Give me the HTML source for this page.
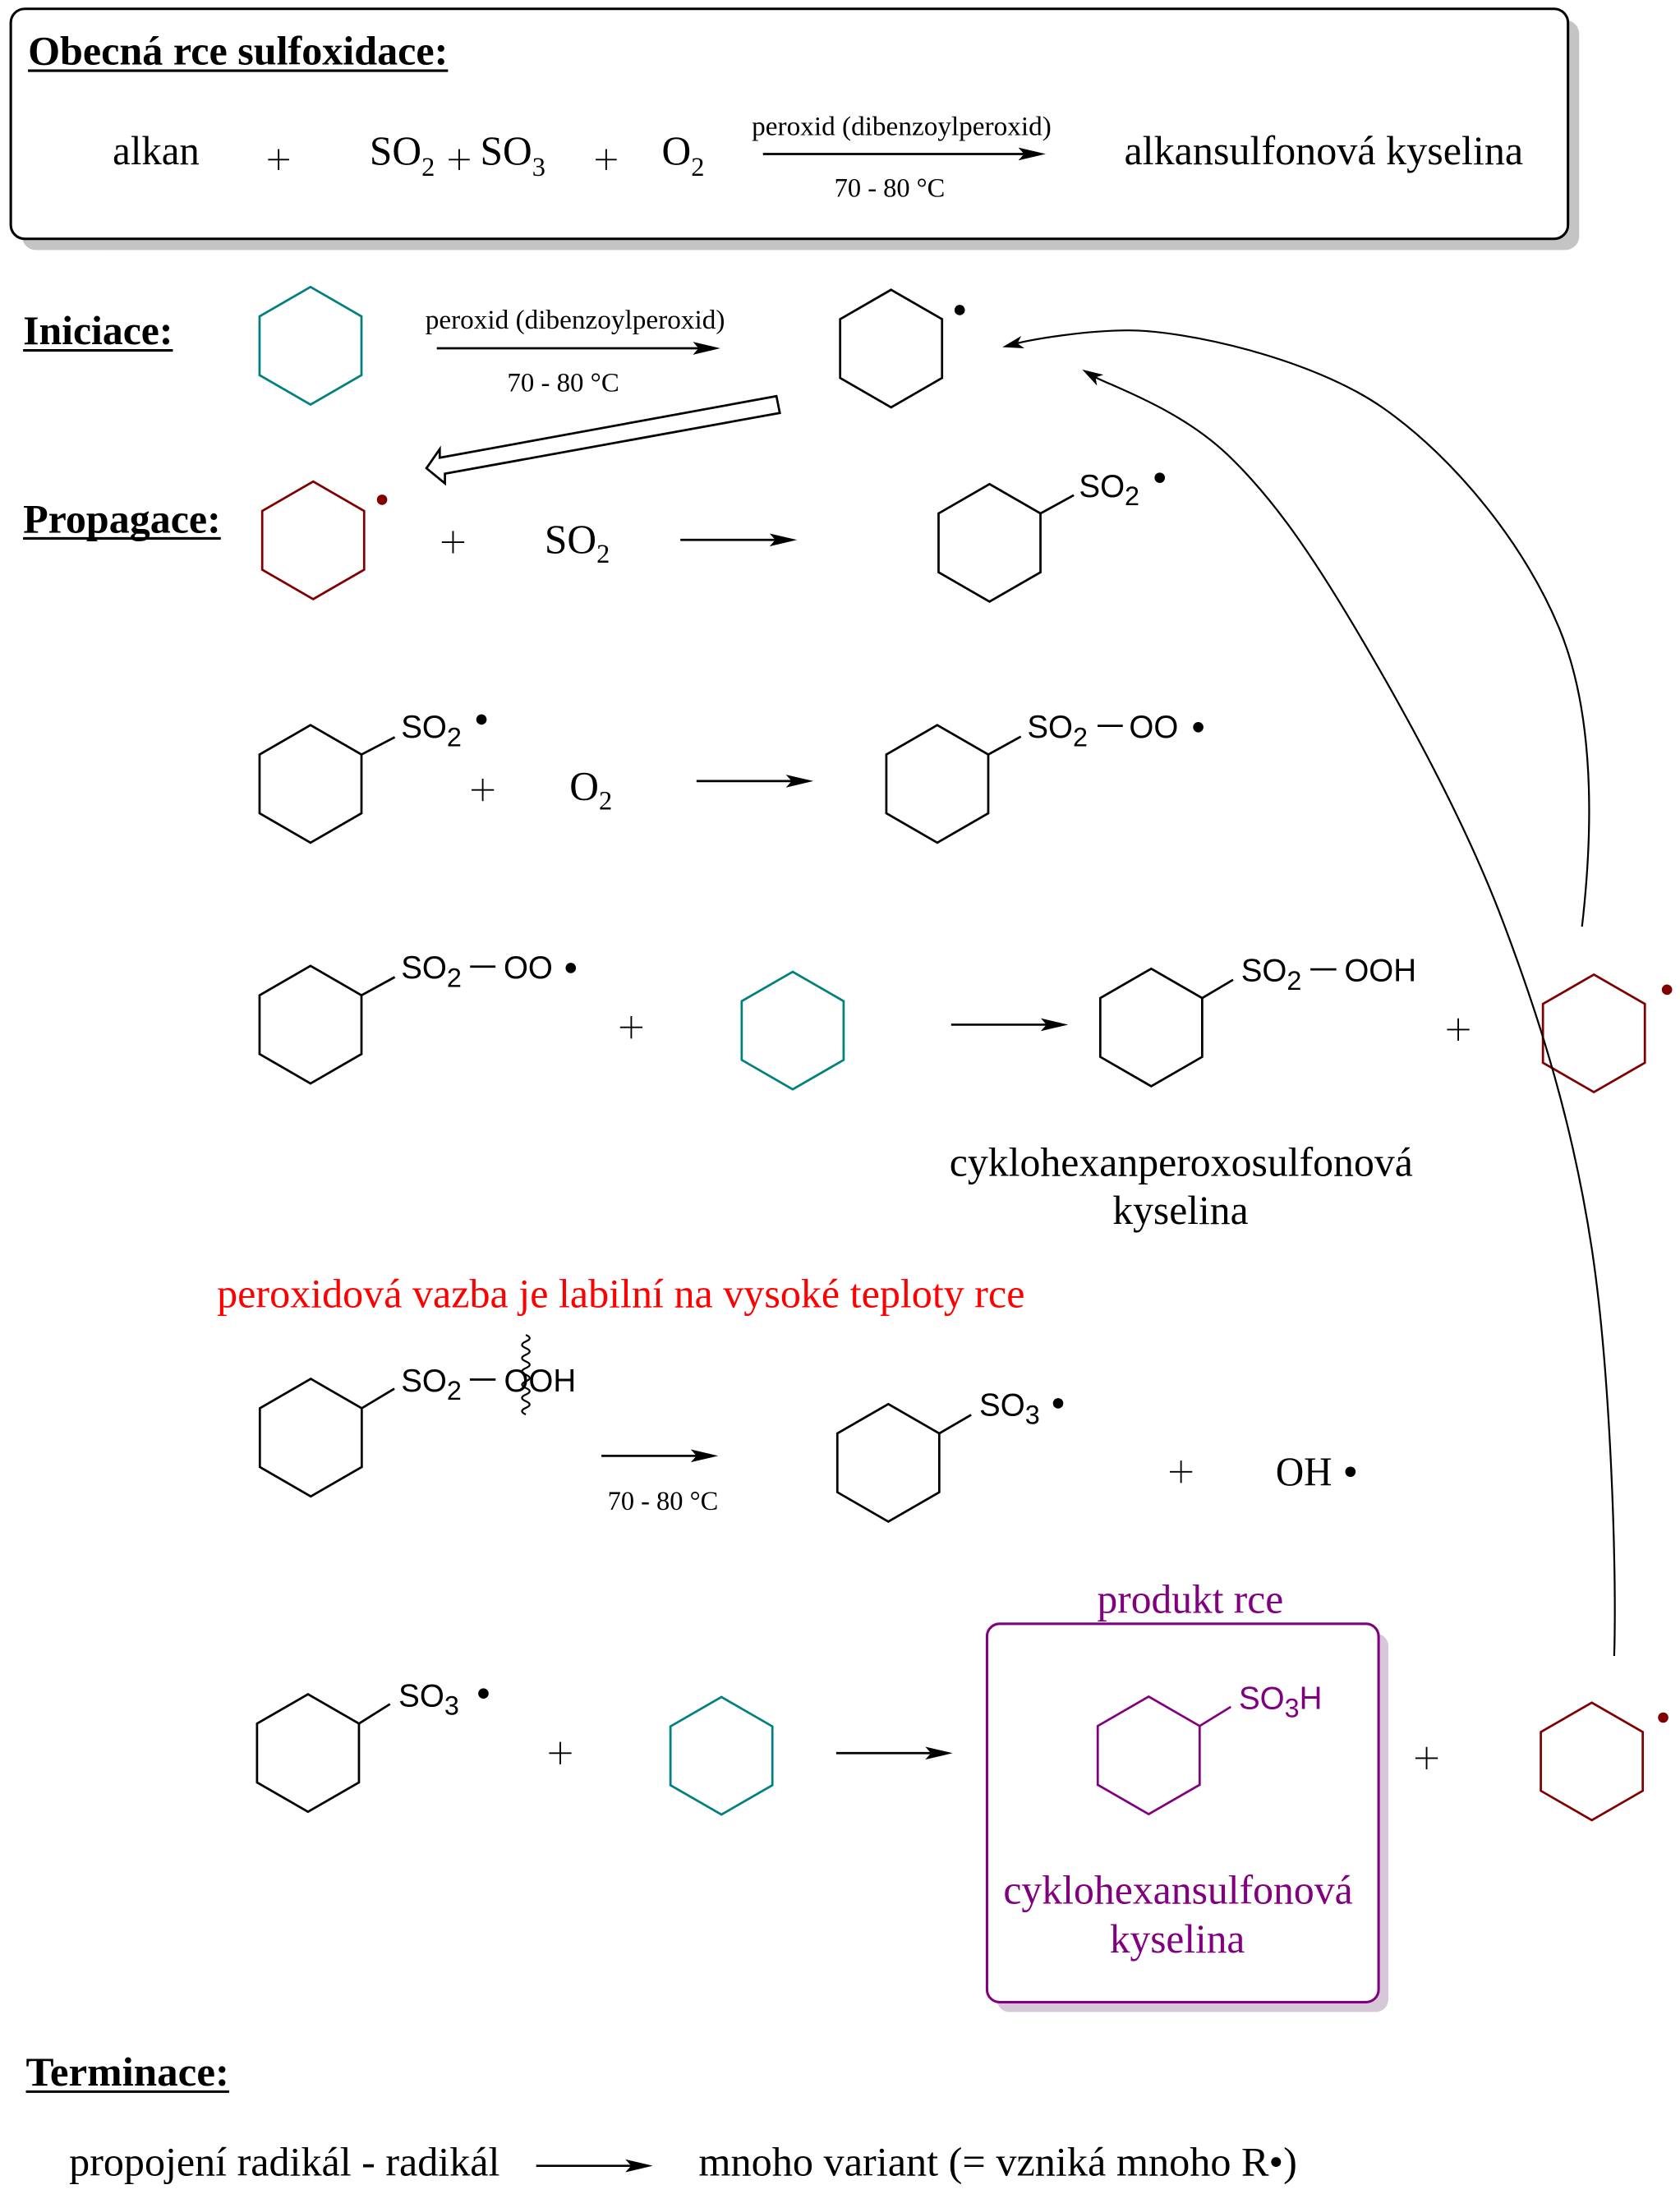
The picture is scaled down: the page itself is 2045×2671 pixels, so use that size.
<!DOCTYPE html>
<html>
<head>
<meta charset="utf-8">
<style>
html,body{margin:0;padding:0;background:#fff;}
svg{display:block;}
.t{font-family:"Liberation Serif","Times New Roman",serif;}
.s{font-family:"Liberation Sans",Arial,sans-serif;}
</style>
</head>
<body>
<svg width="2045" height="2671" viewBox="0 0 1200 1567.34" xmlns="http://www.w3.org/2000/svg">
<rect x="0" y="0" width="1200" height="1567.34" fill="#fff"/>

<!-- Top box -->
<rect x="15.7" y="14.3" width="1112.3" height="164.3" rx="10" fill="#c4c4c4"/>
<rect x="7.7" y="6.3" width="1112.3" height="164.3" rx="10" fill="#fff" stroke="#000" stroke-width="1.8"/>

<text class="t" x="20" y="46" font-size="29" font-weight="bold" textLength="300" lengthAdjust="spacingAndGlyphs">Obecná rce sulfoxidace:</text>
<line x1="20" y1="50.5" x2="320" y2="50.5" stroke="#000" stroke-width="1.8"/>

<text class="t" x="80.5" y="117.5" font-size="29" textLength="62" lengthAdjust="spacingAndGlyphs">alkan</text>
<text class="t" x="264" y="117.5" font-size="29">SO<tspan font-size="19" dy="8">2</tspan></text>
<text class="t" x="343" y="117.5" font-size="29">SO<tspan font-size="19" dy="8">3</tspan></text>
<text class="t" x="472.7" y="117.5" font-size="29">O<tspan font-size="19" dy="8">2</tspan></text>
<text class="t" x="537" y="96.5" font-size="19.5" textLength="214" lengthAdjust="spacingAndGlyphs">peroxid (dibenzoylperoxid)</text>
<text class="t" x="596" y="140.6" font-size="19" textLength="79" lengthAdjust="spacingAndGlyphs">70 - 80 °C</text>
<text class="t" x="803" y="117.5" font-size="29" textLength="285" lengthAdjust="spacingAndGlyphs">alkansulfonová kyselina</text>

<!-- Headings -->
<text class="t" x="16.5" y="246" font-size="29" font-weight="bold" textLength="107" lengthAdjust="spacingAndGlyphs">Iniciace:</text>
<line x1="16.5" y1="250.3" x2="123.5" y2="250.3" stroke="#000" stroke-width="1.8"/>
<text class="t" x="16.5" y="380.5" font-size="29" font-weight="bold" textLength="141.2" lengthAdjust="spacingAndGlyphs">Propagace:</text>
<line x1="16.5" y1="384.6" x2="157.7" y2="384.6" stroke="#000" stroke-width="1.8"/>
<text class="t" x="18.5" y="1490" font-size="29" font-weight="bold" textLength="145.2" lengthAdjust="spacingAndGlyphs">Terminace:</text>
<line x1="18.5" y1="1494.2" x2="163.7" y2="1494.2" stroke="#000" stroke-width="1.8"/>

<!-- Iniciace texts -->
<text class="t" x="303.8" y="234.7" font-size="19.5" textLength="214" lengthAdjust="spacingAndGlyphs">peroxid (dibenzoylperoxid)</text>
<text class="t" x="362.3" y="279.7" font-size="19" textLength="80" lengthAdjust="spacingAndGlyphs">70 - 80 °C</text>

<!-- Propagace row 1 -->
<text class="t" x="389" y="395" font-size="29">SO<tspan font-size="19" dy="7">2</tspan></text>
<!-- Row 2 -->
<text class="t" x="406.8" y="571.2" font-size="29">O<tspan font-size="19" dy="7">2</tspan></text>

<!-- Row 3 names -->
<text class="t" x="678.2" y="840" font-size="29" textLength="331" lengthAdjust="spacingAndGlyphs">cyklohexanperoxosulfonová</text>
<text class="t" x="794.7" y="874.4" font-size="29" textLength="97" lengthAdjust="spacingAndGlyphs">kyselina</text>

<!-- Red note -->
<text class="t" x="155" y="934" font-size="29" fill="#ff0000" textLength="577" lengthAdjust="spacingAndGlyphs">peroxidová vazba je labilní na vysoké teploty rce</text>

<!-- Row 4 -->
<text class="t" x="434" y="1078.6" font-size="19" textLength="79" lengthAdjust="spacingAndGlyphs">70 - 80 °C</text>
<text class="t" x="911.2" y="1060.8" font-size="29" textLength="40.3" lengthAdjust="spacingAndGlyphs">OH</text>

<!-- Purple box -->
<rect x="712" y="1167" width="279.7" height="270.3" rx="9" fill="#d6c8d8"/>
<rect x="705" y="1160" width="279.7" height="270.3" rx="9" fill="#fff" stroke="#800080" stroke-width="1.8"/>
<text class="t" x="783.7" y="1152.3" font-size="29" fill="#800080" textLength="133" lengthAdjust="spacingAndGlyphs">produkt rce</text>
<text class="t" x="716.7" y="1360" font-size="29" fill="#800080" textLength="249.6" lengthAdjust="spacingAndGlyphs">cyklohexansulfonová</text>
<text class="t" x="792.7" y="1394.7" font-size="29" fill="#800080" textLength="96.5" lengthAdjust="spacingAndGlyphs">kyselina</text>

<!-- Terminace line -->
<text class="t" x="49.4" y="1554" font-size="29" textLength="307.6" lengthAdjust="spacingAndGlyphs">propojení radikál - radikál</text>
<text class="t" x="499" y="1554" font-size="29" textLength="427.5" lengthAdjust="spacingAndGlyphs">mnoho variant (= vzniká mnoho R•)</text>

<!-- Hexagons -->
<g fill="none" stroke-width="1.6" stroke-linejoin="miter">
<polygon stroke="#008080" points="221.8,205 258.2,226 258.2,268 221.8,289 185.4,268 185.4,226"/>
<polygon stroke="#000" points="636.5,207 672.9,228 672.9,270 636.5,291 600.1,270 600.1,228"/>
<polygon stroke="#800000" points="223.7,344 260.1,365 260.1,407 223.7,428 187.3,407 187.3,365"/>
<polygon stroke="#000" points="706.8,345.8 743.2,366.8 743.2,408.8 706.8,429.8 670.4,408.8 670.4,366.8"/>
<polygon stroke="#000" points="221.8,518 258.2,539 258.2,581 221.8,602 185.4,581 185.4,539"/>
<polygon stroke="#000" points="669.5,518 705.9,539 705.9,581 669.5,602 633.1,581 633.1,539"/>
<polygon stroke="#000" points="221.8,690 258.2,711 258.2,753 221.8,774 185.4,753 185.4,711"/>
<polygon stroke="#008080" points="566.2,694.2 602.6,715.2 602.6,757.2 566.2,778.2 529.8,757.2 529.8,715.2"/>
<polygon stroke="#000" points="822.3,692 858.7,713 858.7,755 822.3,776 785.9,755 785.9,713"/>
<polygon stroke="#800000" points="1138.5,696.2 1174.9,717.2 1174.9,759.2 1138.5,780.2 1102.1,759.2 1102.1,717.2"/>
<polygon stroke="#000" points="222,985 258.4,1006 258.4,1048 222,1069 185.6,1048 185.6,1006"/>
<polygon stroke="#000" points="634.5,1003 670.9,1024 670.9,1066 634.5,1087 598.1,1066 598.1,1024"/>
<polygon stroke="#000" points="220,1210.3 256.4,1231.3 256.4,1273.3 220,1294.3 183.6,1273.3 183.6,1231.3"/>
<polygon stroke="#008080" points="515.3,1212.3 551.7,1233.3 551.7,1275.3 515.3,1296.3 478.9,1275.3 478.9,1233.3"/>
<polygon stroke="#800080" points="820.5,1212 856.9,1233 856.9,1275 820.5,1296 784.1,1275 784.1,1233"/>
<polygon stroke="#800000" points="1137,1216.3 1173.4,1237.3 1173.4,1279.3 1137,1300.3 1100.6,1279.3 1100.6,1237.3"/>
</g>

<!-- Bonds -->
<g stroke="#000" stroke-width="1.6" stroke-linecap="butt">
<line x1="743.2" y1="366.8" x2="767" y2="353.7"/>
<line x1="258.2" y1="539" x2="282" y2="526.6"/>
<line x1="705.9" y1="539" x2="729.2" y2="526.2"/>
<line x1="258.2" y1="711" x2="282" y2="698"/>
<line x1="858.7" y1="713" x2="880.8" y2="699.9"/>
<line x1="258.4" y1="1006" x2="281.7" y2="992"/>
<line x1="670.9" y1="1024" x2="693.7" y2="1010.7"/>
<line x1="256.4" y1="1231.3" x2="278.6" y2="1217.3"/>
<!-- dashes -->
<line x1="784" y1="518.5" x2="802" y2="518.5"/>
<line x1="335.8" y1="690.5" x2="353.9" y2="690.5"/>
<line x1="936" y1="692.5" x2="954.5" y2="692.5"/>
<line x1="335.6" y1="985.5" x2="354" y2="985.5"/>
</g>
<line x1="856.9" y1="1233" x2="879.2" y2="1219.3" stroke="#800080" stroke-width="1.6"/>

<!-- Sans labels -->
<g class="s" font-size="22.6" fill="#000">
<text x="770.7" y="355">SO<tspan font-size="19" dy="6">2</tspan></text>
<text x="286.5" y="527">SO<tspan font-size="19" dy="6">2</tspan></text>
<text x="733.7" y="527">SO<tspan font-size="19" dy="6">2</tspan></text>
<text x="806.5" y="527">OO</text>
<text x="286.5" y="699">SO<tspan font-size="19" dy="6">2</tspan></text>
<text x="359.7" y="699">OO</text>
<text x="886.5" y="701">SO<tspan font-size="19" dy="6">2</tspan></text>
<text x="960.2" y="701">OOH</text>
<text x="286.5" y="994">SO<tspan font-size="19" dy="6">2</tspan></text>
<text x="360" y="994">OOH</text>
<text x="699.5" y="1011.3">SO<tspan font-size="19" dy="6">3</tspan></text>
<text x="284.7" y="1219">SO<tspan font-size="19" dy="6">3</tspan></text>
<text x="884.9" y="1220.8" fill="#800080">SO<tspan font-size="19" dy="6">3</tspan><tspan dy="-6">H</tspan></text>
</g>

<!-- wavy bond-break line -->
<path d="M375.6,953.6 q5.5,2.37 0,4.74 t0,4.74 t0,4.74 t0,4.74 t0,4.74 t0,4.74 t0,4.74 t0,4.74 t0,4.74 t0,4.74 t0,4.74 t0,4.74" fill="none" stroke="#000" stroke-width="1.3"/>

<!-- Radical dots -->
<g>
<circle cx="685.5" cy="221.5" r="3.7" fill="#000"/>
<circle cx="272.9" cy="357" r="3.7" fill="#800000"/>
<circle cx="828.4" cy="341.3" r="3.7" fill="#000"/>
<circle cx="343.9" cy="514" r="3.7" fill="#000"/>
<circle cx="855.9" cy="519.5" r="3.7" fill="#000"/>
<circle cx="407.7" cy="691.5" r="3.7" fill="#000"/>
<circle cx="1190.7" cy="707" r="3.7" fill="#800000"/>
<circle cx="755.8" cy="1002.5" r="3.7" fill="#000"/>
<circle cx="964.6" cy="1051.4" r="3.7" fill="#000"/>
<circle cx="345.3" cy="1209.8" r="3.7" fill="#000"/>
<circle cx="1188" cy="1227" r="3.7" fill="#800000"/>
</g>

<!-- Plus signs -->
<g stroke="#000" stroke-width="1.1" fill="none">
<path d="M191.5,114h15M199,106.5v15"/>
<path d="M320.5,114h15M328,106.5v15"/>
<path d="M425.5,114h15M433,106.5v15"/>
<path d="M315.6,387.3h16M323.6,379.3v16"/>
<path d="M336.8,564.3h16M344.8,556.3v16"/>
<path d="M442.9,733.9h16M450.9,725.9v16"/>
<path d="M1033.6,735.5h16M1041.6,727.5v16"/>
<path d="M835.6,1051.4h16M843.6,1043.4v16"/>
<path d="M392.2,1252.4h16M400.2,1244.4v16"/>
<path d="M1011,1256h16M1019,1248v16"/>
</g>

<!-- Straight arrows -->
<g stroke="#000" stroke-width="1.6">
<line x1="545" y1="110" x2="732" y2="110"/>
<line x1="312" y1="248.8" x2="499.5" y2="248.8"/>
<line x1="486" y1="385.7" x2="554.3" y2="385.7"/>
<line x1="497.5" y1="558" x2="566" y2="558"/>
<line x1="679.4" y1="732" x2="748" y2="732"/>
<line x1="429.6" y1="1040" x2="498" y2="1040"/>
<line x1="597.3" y1="1252.4" x2="665.5" y2="1252.4"/>
<line x1="383" y1="1547.2" x2="451.3" y2="1547.2"/>
</g>
<g fill="#000">
<polygon points="747,110 727.4,105.4 731.5,110 727.4,114.6"/>
<polygon points="514.5,248.8 494.9,244.2 499,248.8 494.9,253.4"/>
<polygon points="569.3,385.7 549.7,381.1 553.8,385.7 549.7,390.3"/>
<polygon points="581,558 561.4,553.4 565.5,558 561.4,562.6"/>
<polygon points="763,732 743.4,727.4 747.5,732 743.4,736.6"/>
<polygon points="513,1040 493.4,1035.4 497.5,1040 493.4,1044.6"/>
<polygon points="680.5,1252.4 660.9,1247.8 665,1252.4 660.9,1257"/>
<polygon points="466.3,1547.2 446.7,1542.6 450.8,1547.2 446.7,1551.8"/>
</g>

<!-- Hollow arrow -->
<polygon points="554.6,283 314.1,327 314.1,320.8 304.6,334.5 317.8,345.3 317.8,338.4 557,295" fill="#fff" stroke="#000" stroke-width="1.6" stroke-linejoin="miter"/>

<!-- Curved arrows -->
<path d="M1130,662 C1136,610 1142,520 1115,452 C1090.7,390.8 1039.5,327.5 988,291.5 C936.5,255.5 846,236 806,236 C776,236 740,242 726,245.3" fill="none" stroke="#000" stroke-width="1.3"/>
<polygon points="716,248 729.5,240 726.7,245.3 731.7,248.8" fill="#000"/>
<path d="M1153,1183 C1155,1120 1150.3,979.7 1137,892 C1123.7,804.3 1100.8,730.3 1073,657 C1045.2,583.7 1002.7,507.3 970,452 C937.3,396.7 909.8,356.3 877,325 C844.2,293.7 800,278 782.5,269.6" fill="none" stroke="#000" stroke-width="1.3"/>
<polygon points="773,264 788.2,267.7 782.5,269.6 783.6,275.5" fill="#000"/>

</svg>
</body>
</html>
